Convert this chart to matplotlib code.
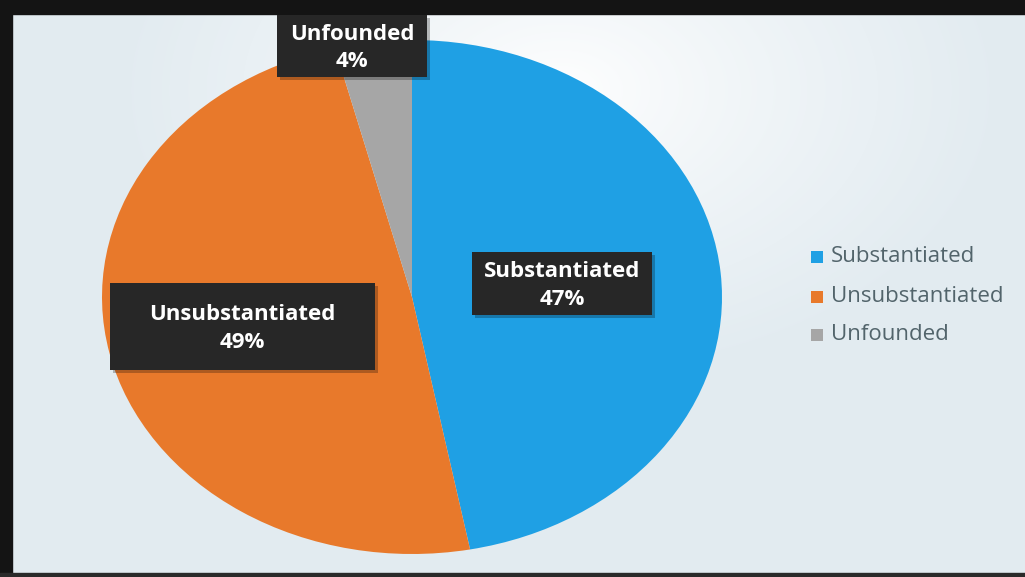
import numpy as np
import matplotlib.pyplot as plt
from matplotlib.patches import Rectangle

# data
categories = ['Substantiated', 'Unsubstantiated', 'Unfounded']
shares = [47, 49, 4]
colors = ['#1FA0E4', '#E8792B', '#A6A6A6']

W, H = 1025, 577
fig = plt.figure(figsize=(W / 100, H / 100), dpi=100)

# background: pale scanned paper, whiter around the top of the pie
bg = fig.add_axes([0, 0, 1, 1])
yy, xx = np.mgrid[0:H, 0:W]
d = np.sqrt(((xx - 560) / 430.0) ** 2 + ((yy - 90) / 280.0) ** 2)
t = np.clip(d, 0, 1)[..., None] ** 0.8
white = np.array([1.0, 1.0, 1.0])
paper = np.array([0.89, 0.925, 0.945])
bg.imshow(white * (1 - t) + paper * t, extent=[0, W, H, 0], aspect='auto')
bg.set_xlim(0, W)
bg.set_ylim(H, 0)
bg.axis('off')
# black frame of the photo
bg.add_patch(Rectangle((0, 0), W, 14, color='#141414'))
bg.add_patch(Rectangle((0, 0), 12, H, color='#141414'))
bg.add_patch(Rectangle((0, 573), W, 4, color='#2a2a2a'))

# pie, stretched into an ellipse
left, right, top, bottom = 102, 722, 40, 554
ax = fig.add_axes([left / W, (H - bottom) / H, (right - left) / W, (bottom - top) / H])
ax.pie(shares, colors=colors, startangle=90, counterclock=False,
       wedgeprops=dict(linewidth=0))
ax.set_aspect('auto')
ax.set_xlim(-1, 1)
ax.set_ylim(-1, 1)

# overlay for labels and legend, in pixel coordinates
ov = fig.add_axes([0, 0, 1, 1])
ov.set_xlim(0, W)
ov.set_ylim(H, 0)
ov.axis('off')
ov.patch.set_alpha(0)

# data labels in dark boxes (x0, y0, x1, y1)
label_box = [(472, 252, 652, 315), (110, 283, 375, 370), (277, 15, 427, 77)]
for name, val, (x0, y0, x1, y1) in zip(categories, shares, label_box):
    ov.add_patch(Rectangle((x0 + 3, y0 + 3), x1 - x0, y1 - y0, color='#000000',
                           alpha=0.25, lw=0))
    ov.add_patch(Rectangle((x0, y0), x1 - x0, y1 - y0, color='#272727', lw=0))
    ov.text((x0 + x1) / 2, (y0 + y1) / 2 + 2, f'{name}\n{val}%', ha='center',
            va='center', color='white', fontsize=16, fontweight='bold',
            family='Open Sans', linespacing=1.4)

# legend
leg_y = [256, 296, 334]
for name, c, ly in zip(categories, colors, leg_y):
    ov.add_patch(Rectangle((811, ly - 5), 12, 12, color=c, lw=0))
    ov.text(831, ly, name, ha='left', va='center', color='#52646b',
            fontsize=16, family='Open Sans')

fig.savefig('out.png', dpi=100)
